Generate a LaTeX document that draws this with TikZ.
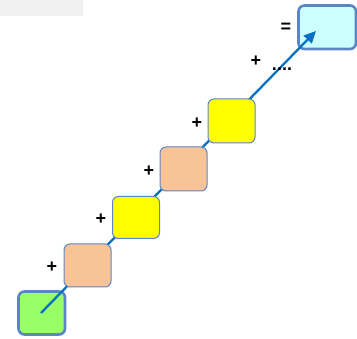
\documentclass[tikz,border=0pt]{standalone}
\usepackage{fontspec}
\setmainfont{Liberation Sans}
\usetikzlibrary{arrows.meta}
\definecolor{edgeblue}{HTML}{5A86C6}
\definecolor{arrowblue}{HTML}{0A70C0}
\definecolor{greenfill}{HTML}{99FF66}
\definecolor{orangefill}{HTML}{F8C396}
\definecolor{yellowfill}{HTML}{FFFF00}
\definecolor{cyanfill}{HTML}{CCFFFF}
\definecolor{barfill}{HTML}{F0F0F0}
\tikzset{
  px/.style={x=1pt,y=-1pt},
  thinbox/.style={draw=edgeblue,line width=1pt,rounded corners=6pt},
  thickbox/.style={draw=edgeblue,line width=2.6pt,rounded corners=6pt},
  op/.style={font=\bfseries\fontsize{18}{18}\selectfont,inner sep=0pt},
  flow/.style={draw=arrowblue,line width=2.3pt,-{Triangle[length=12pt,width=11pt]}}
}
\begin{document}
\begin{tikzpicture}[px]
\useasboundingbox (0,0) rectangle (357,339);
\fill[barfill] (0,0) rectangle (83,16);
% end boxes
\path[thickbox,fill=greenfill] (18.5,291.5) rectangle (65,334.5);
\coordinate (start) at (41,313);
\path[thickbox,fill=cyanfill] (298.5,5.5) rectangle (356,49);
\coordinate (finish) at (316,31);
% arrow
\draw[flow] (start) -- (finish);
% middle boxes
\node[thinbox,fill=orangefill,minimum width=47pt,minimum height=43pt,inner sep=0pt] (o1) at (87.5,265.5) {};
\node[thinbox,fill=yellowfill,minimum width=47pt,minimum height=42pt,inner sep=0pt] (y1) at (136,217.5) {};
\node[thinbox,fill=orangefill,minimum width=47pt,minimum height=44pt,inner sep=0pt] (o2) at (183.5,169) {};
\node[thinbox,fill=yellowfill,minimum width=47pt,minimum height=44pt,inner sep=0pt] (y2) at (231.5,121) {};
% operators
\node[op] (p1) at (52,267) {+};
\node[op] (p2) at (101,219) {+};
\node[op] (p3) at (149,171) {+};
\node[op] (p4) at (197,123) {+};
\node[op] (p5) at (256,61) {+};
\node[op,anchor=base] (dots) at (282,71) {....};
\node[op] (eq) at (286,28) {=};
\end{tikzpicture}
\end{document}
